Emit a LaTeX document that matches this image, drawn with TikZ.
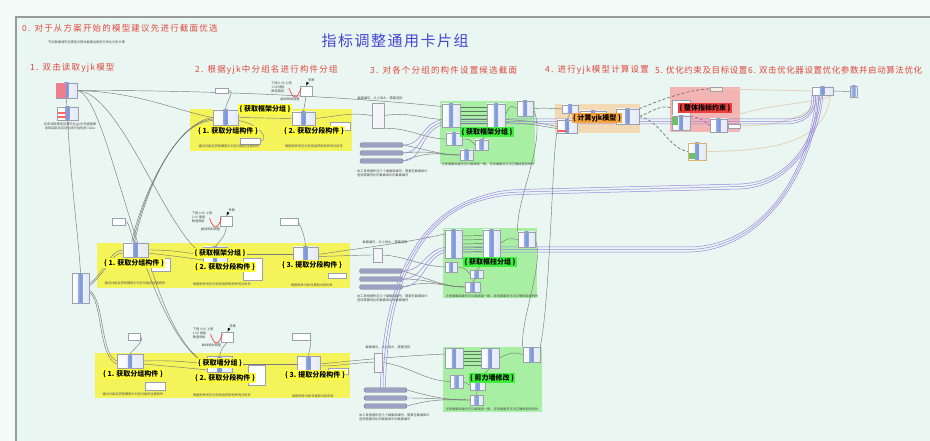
\documentclass[tikz,border=0pt]{standalone}
\usepackage{fontspec}
\setmainfont{Noto Sans CJK SC}
\newfontfamily\hdrfont{Noto Sans CJK SC}[LetterSpace=14]
\newfontfamily\hdrfontb{Noto Sans CJK SC}[LetterSpace=7]
\newfontfamily\ttlfont{Noto Sans CJK SC}[LetterSpace=10]
\usetikzlibrary{calc}
\definecolor{bgout}{HTML}{F4FAF8}
\definecolor{bgin}{HTML}{E9F6F1}
\definecolor{framec}{HTML}{9A9A9A}
\definecolor{hdr}{HTML}{E2473F}
\definecolor{ttl}{HTML}{4646D6}
\definecolor{ygrp}{HTML}{F4F35A}
\definecolor{ylab}{HTML}{FFFF3C}
\definecolor{ggrp}{HTML}{A9EFA3}
\definecolor{glab}{HTML}{3FEF3F}
\definecolor{ogrp}{HTML}{F4D9B5}
\definecolor{olab}{HTML}{F5A33A}
\definecolor{rgrp}{HTML}{F2B5B3}
\definecolor{rlab}{HTML}{EE3F3F}
\definecolor{wire}{HTML}{7A7A7A}
\definecolor{pwire}{HTML}{9A86E0}
\definecolor{twire}{HTML}{E6D0B8}
\definecolor{cfill}{HTML}{E2E8F7}
\definecolor{cstripe}{HTML}{7A96DA}
\definecolor{cdraw}{HTML}{9AA0AE}
\definecolor{sfill}{HTML}{9BA3C4}
\definecolor{pinkc}{HTML}{EE7E8E}
\definecolor{greenc}{HTML}{6FBF6F}
\definecolor{tanc}{HTML}{F8EBDD}
\definecolor{orbord}{HTML}{E0B070}
\definecolor{dgw}{HTML}{5E7A5E}
\definecolor{magw}{HTML}{D04E90}
\pgfdeclarelayer{grp}
\pgfdeclarelayer{wires}
\pgfsetlayers{grp,wires,main}
\tikzset{
 comp/.style 2 args={draw=cdraw, line width=0.45pt, inner sep=0pt, minimum width=#1, minimum height=#2,
   left color=white, right color=cfill,
   path picture={\shade[left color=cfill, right color=cfill, middle color=cstripe]
     ([xshift=-2.2pt]path picture bounding box.south) rectangle ([xshift=2.2pt]path picture bounding box.north);}},
 wbox/.style 2 args={draw=cdraw, line width=0.45pt, fill=white, inner sep=0pt, minimum width=#1, minimum height=#2},
 slider/.style={draw=cdraw!80!black, line width=0.4pt, fill=sfill, rounded corners=1.5pt, inner sep=0pt, minimum width=43, minimum height=4.5},
 grpbox/.style={fill=#1, draw=none, inner sep=0pt},
 glabel/.style={fill=#1, text=black, font=\bfseries\fontsize{7}{8}\selectfont, inner sep=1.3pt},
 hdrs/.style={text=hdr, font=\hdrfont\fontsize{8.5}{10}\selectfont, anchor=west, inner sep=0pt},
 tinytxt/.style={text=black!70, font=\fontsize{3.2}{3.9}\selectfont, inner sep=0pt},
 w/.style={draw=wire, line width=0.45pt},
 pw/.style={draw=pwire, line width=0.5pt},
 tw/.style={draw=twire, line width=0.8pt},
 dw/.style={draw=black!55, line width=0.7pt, dash pattern=on 3pt off 2pt},
}
\newcommand{\mgraph}[3]{%
  \node[wbox={12}{10}] (#1box) at (#2,#3) {};
  \node[tinytxt, anchor=east, align=left] (#1txt) at ({#2-14},{#3-4}) {下限 0.00 上限\\ 1.00 插值\\ 数值映射};
  \draw[red!80, line width=0.6pt] ({#2-17},{#3-3}) .. controls ({#2-13},{#3+9}) and ({#2-9},{#3+9}) .. ({#2-5},{#3-3});
  \node[tinytxt, anchor=south west] (#1lbl) at ({#2+2},{#3-9}) {参数};
  \draw[-latex, line width=0.3pt] (#1lbl.south west) -- (#1box.north);
  \node[tinytxt] (#1bot) at ({#2-16},{#3+8}) {曲线映射调整};
}
\begin{document}
\begin{tikzpicture}[x=1pt,y=-1pt]
\useasboundingbox (0,0) rectangle (930,441);
\begin{pgfonlayer}{grp}
\fill[bgout] (0,0) rectangle (930,441);
\fill[bgin] (16,17) rectangle (930,441);
\draw[framec, line width=1.4pt] (16,441) -- (16,17) -- (931,17);
% groups
\node[grpbox=ygrp, minimum width=162, minimum height=42] (Y1) at (271,130) {};
\node[grpbox=ygrp, minimum width=253, minimum height=45] (Y2) at (223.5,265.5) {};
\node[grpbox=ygrp, minimum width=255, minimum height=45] (Y3) at (222.5,375.5) {};
\node[grpbox=ggrp, minimum width=95, minimum height=63] (GG1) at (487.5,132.5) {};
\node[grpbox=ggrp, minimum width=94, minimum height=70] (GG2) at (490,263) {};
\node[grpbox=ggrp, minimum width=99, minimum height=65] (GG3) at (492.5,379.5) {};
\node[grpbox=ogrp, minimum width=85, minimum height=29] (GO) at (597.5,118.5) {};
\node[grpbox=rgrp, minimum width=70, minimum height=45] (GR) at (705,109.5) {};
\end{pgfonlayer}

% headers
\node[hdrs] (h0) at (22,28) {0. 对于从方案开始的模型建议先进行截面优选};
\node[tinytxt, anchor=west] (h0t) at (48,42) {节点数据请先在模型中预设截面后再进行优化分析计算};
\node[text=ttl, font=\ttlfont\fontsize{15}{17}\selectfont, inner sep=0pt] (title) at (395,41) {指标调整通用卡片组};
\node[hdrs] (h1) at (30,68) {1. 双击读取yjk模型};
\node[hdrs] (h2) at (195,70) {2. 根据yjk中分组名进行构件分组};
\node[hdrs] (h3) at (370,70) {3. 对各个分组的构件设置候选截面};
\node[hdrs] (h4) at (545,70) {4. 进行yjk模型计算设置};
\node[hdrs, font=\hdrfontb\fontsize{8.5}{10}\selectfont] (h5) at (655,70) {5. 优化约束及目标设置6. 双击优化器设置优化参数并启动算法优化};

% left
\node[comp={21}{15}] (L0) at (66.5,90.5) {};
\fill[pinkc] ($(L0.north west)+(0.5,0.5)$) rectangle ($(L0.south)+(-0.5,-0.5)$);
\node[comp={21}{13}] (L1) at (67.5,113.5) {};
\fill[red!60] ($(L1.south west)+(1.5,-2)$) rectangle ($(L1.south)+(-2,-4.5)$);
\fill[red!60] ($(L1.south west)+(1.5,-6.5)$) rectangle ($(L1.south)+(-2,-8.5)$);
\node[tinytxt, align=center] (tL1) at (70,126.5) {双击读取模型前请先在yjk中完成建模\\读取结束后自动生成分组信息 Tekla};
\node[comp={17}{30}] (LB) at (80.5,288) {};

% row 1
\node[wbox={13}{5}] (SB1) at (221.5,90.5) {};
\node[comp={25}{15}] (A1) at (225.5,117.5) {};
\node[comp={23}{13}] (A2) at (303.5,118.5) {};
\node[wbox={20}{6}] (s1) at (250,141) {};
\node[wbox={20}{8}] (s2) at (340,126) {};
\mgraph{g1}{306}{91}
\node[tinytxt] (t1a) at (229,146) {通过分组名获取模型中对应分组的全部构件};
\node[tinytxt] (t1b) at (314,146) {根据构件所在分段信息获取构件的分段号};

% row 2
\node[wbox={13}{7}] (SB2a) at (118.5,221.5) {};
\node[wbox={18}{7}] (SB2b) at (289,221.5) {};
\mgraph{g2}{226.5}{221}
\node[comp={25}{14}] (B1) at (135.5,250) {};
\node[comp={24}{15}] (B2) at (215,254.5) {};
\node[comp={25}{15}] (B3) at (305.5,254.5) {};
\node[wbox={19}{13}] (sb1) at (160.5,264.5) {};
\node[wbox={19}{22}] (sb2) at (252.5,269) {};
\node[wbox={18}{5}] (sb3) at (337,276) {};
\node[tinytxt] (t2a) at (135,283) {通过分组名获取模型中对应分组的全部构件};
\node[tinytxt] (t2b) at (222,284) {根据构件所在分段信息获取构件的分段号};
\node[tinytxt] (t2c) at (312,285) {根据构件分段号提取分段构件};

% row 3
\node[wbox={12}{7}] (SB3a) at (134,336.5) {};
\node[wbox={18}{7}] (SB3b) at (301,336.5) {};
\mgraph{g3}{227.5}{337}
\node[comp={26}{14}] (C1) at (130,361) {};
\node[comp={25}{16}] (C2) at (219.5,364) {};
\node[comp={23}{16}] (C3) at (308.5,364) {};
\node[wbox={20}{8}] (sc1) at (155,386) {};
\node[wbox={17}{20}] (sc2) at (256.5,375) {};
\node[wbox={20}{6}] (sc3) at (338,371) {};
\node[tinytxt] (t3a) at (133,394) {通过分组名获取模型中对应分组的全部构件};
\node[tinytxt] (t3b) at (222,395) {根据构件所在分段信息获取构件的分段号};
\node[tinytxt] (t3c) at (313,396) {根据构件分段号提取分段构件};

% section columns
\node[wbox={12}{25}, fill=white!92!gray] (T1) at (378,115.5) {};
\node[slider] (S1a) at (381.5,145) {};
\node[slider] (S1b) at (381.5,153) {};
\node[slider] (S1c) at (381.5,161) {};
\node[tinytxt] (tT1) at (380,98) {截面编号，从小到大，需要选择};
\node[tinytxt, anchor=west, align=left] (tS1) at (357,173) {本工具根据所选几个截面库编号，需要在截面库中\\选择需要优化的截面库中的截面编号};

\node[wbox={9}{14}, fill=white!92!gray] (T2) at (377.5,255) {};
\node[slider] (S2a) at (381,271) {};
\node[slider] (S2b) at (381,279) {};
\node[slider] (S2c) at (381,287) {};
\node[tinytxt] (tT2) at (385,242) {截面编号，从小到大，需要选择};
\node[tinytxt, anchor=west, align=left] (tS2) at (357,298) {本工具根据所选几个截面库编号，需要在截面库中\\选择需要优化的截面库中的截面编号};

\node[wbox={8}{19}, fill=white!92!gray] (T3) at (378,362.5) {};
\node[slider] (S3a) at (385.5,390) {};
\node[slider] (S3b) at (385.5,398) {};
\node[slider] (S3c) at (385.5,406) {};
\node[tinytxt] (tT3) at (388,347) {截面编号，从小到大，需要选择};
\node[tinytxt, anchor=west, align=left] (tS3) at (359,417) {本工具根据所选几个截面库编号，需要在截面库中\\选择需要优化的截面库中的截面编号};

% green 1
\node[comp={18}{23}] (K1a) at (451,115.5) {};
\node[comp={18}{23}] (K1b) at (496,115.5) {};
\node[comp={16}{15}] (K1c) at (525,108.5) {};
\node[comp={16}{12}] (K1d) at (454,139) {};
\node[comp={13}{10}] (K1e) at (481.5,145) {};
\node[comp={13}{10}] (K1f) at (466.5,155) {};
\node[tinytxt] (tK1) at (488,164) {注意截面库编号应与截面库一致，否则截面将无法正确赋值到构件};
% green 2
\node[comp={17}{28}] (K2a) at (453.5,244) {};
\node[comp={17}{27}] (K2b) at (491.5,243.5) {};
\node[comp={17}{15}] (K2c) at (526.5,239.5) {};
\node[comp={12}{10}] (K2d) at (451,267) {};
\node[comp={13}{8}] (K2e) at (476.5,274) {};
\node[comp={15}{10}] (K2f) at (472.5,287) {};
\node[tinytxt] (tK2) at (492,296) {注意截面库编号应与截面库一致，否则截面将无法正确赋值到构件};
% green 3
\node[comp={18}{20}] (K3a) at (454,358) {};
\node[comp={18}{20}] (K3b) at (490,358) {};
\node[comp={17}{15}] (K3c) at (531.5,354.5) {};
\node[comp={13}{13}] (K3d) at (456.5,381.5) {};
\node[comp={15}{10}] (K3e) at (477.5,385) {};
\node[comp={13}{10}] (K3f) at (476.5,400) {};
\node[tinytxt] (tK3) at (492,409) {注意截面库编号应与截面库一致，否则截面将无法正确赋值到构件};

% orange
\node[comp={16}{8}] (O1) at (570,109) {};
\node[comp={26}{6}] (O2) at (593,114) {};
\node[comp={23}{15}] (O3) at (627.5,116.5) {};
\node[comp={20}{13}] (O4) at (567,126.5) {};
\fill[red!65] ($(O4.south west)+(1,-1)$) rectangle ($(O4.south west)+(9,-3.5)$);

% red
\node[wbox={18}{16}] (R4) at (681,108) {};
\node[comp={18}{14}] (R1) at (681,123) {};
\fill[greenc] ($(R1.north west)+(0.5,1)$) rectangle ($(R1.north west)+(6,9)$);
\node[comp={17}{13}] (R2) at (718.5,125.5) {};
\node[wbox={12}{4}] (R3) at (734,126) {};
\node[wbox={12}{4}, fill=tanc] (R0) at (716,89) {};
\node[comp={18}{17}, draw=orbord] (RL) at (697,151.5) {};
\fill[greenc] ($(RL.south west)+(1,-1)$) rectangle ($(RL.south west)+(8,-7)$);

% optimizer
\node[comp={21}{8}] (OP) at (822.5,91) {};
\node[comp={7}{11}] (OQ) at (853.5,91.5) {};

% labels
\node[glabel=ylab] (YL1) at (265,109) {\{ 获取框架分组 \}};
\node[glabel=ylab] (YL1a) at (228,131) {\{ 1. 获取分组构件 \}};
\node[glabel=ylab] (YL1b) at (314,131) {\{ 2. 获取分段构件 \}};
\node[glabel=ylab] (YL2) at (220,253) {\{ 获取框架分组 \}};
\node[glabel=ylab] (YL2a) at (134,263) {\{ 1. 获取分组构件 \}};
\node[glabel=ylab] (YL2b) at (225,267) {\{ 2. 获取分段构件 \}};
\node[glabel=ylab] (YL2c) at (312,265) {\{ 3. 提取分段构件 \}};
\node[glabel=ylab] (YL3) at (220,363) {\{ 获取墙分组 \}};
\node[glabel=ylab] (YL3a) at (133,374) {\{ 1. 获取分组构件 \}};
\node[glabel=ylab] (YL3b) at (225,378) {\{ 2. 获取分段构件 \}};
\node[glabel=ylab] (YL3c) at (315,375) {\{ 3. 提取分段构件 \}};
\node[glabel=glab] (GL1) at (487,132) {\{ 获取框架分组 \}};
\node[glabel=glab] (GL2) at (490,262) {\{ 获取框柱分组 \}};
\node[glabel=glab] (GL3) at (492,378) {\{ 剪力墙修改 \}};
\node[glabel=olab] (OLb) at (597,118) {\{ 计算yjk模型 \}};
\node[glabel=rlab] (RLb) at (705,108) {\{ 整体指标约束 \}};

\begin{pgfonlayer}{wires}
% from yjk reader
\draw[w] (L0.east) .. controls (200,90) and (340,96) .. ([yshift=9pt]K1a.west);
\draw[w] (L0.east) .. controls (140,92) and (180,112) .. (A1.west);
\draw[w] (SB1.east) .. controls +(8,0) and +(0,-8) .. (A1.north);
\draw[w] (L0.east) .. controls (120,92) and (165,230) .. (B2.west);
\draw[w] (L0.east) .. controls (110,95) and (140,330) .. (C2.west);
\draw[w] (L0.south) .. controls (70,180) and (78,230) .. (LB.north);
\foreach \d in {0,1.5,3}{
  \draw[w] ([yshift={-\d}]A1.west) .. controls ({175-\d},122) and ({140+\d},200) .. ([xshift={\d-4}]B1.north);
}
\draw[w] ([yshift=4pt]LB.east) .. controls (105,272) and (110,250) .. (B1.west);
\draw[w] ([yshift=2pt]LB.east) .. controls (107,272) and (112,252) .. ([yshift=-3pt]B1.west);
\draw[w] ([yshift=-2pt]LB.east) .. controls (105,300) and (100,355) .. (C1.west);
\draw[w] ([yshift=-4pt]LB.east) .. controls (103,302) and (98,357) .. ([yshift=-3pt]C1.west);
\draw[w] (B1.south east) .. controls (160,300) and (180,350) .. (C2.west);
% row 1 chain
\draw[w] (A1.east) -- (A2.west);
\draw[w] ([yshift=-3pt]A1.east) .. controls (260,124) and (270,140) .. (s1.east);
\draw[w] (g1box.south) -- (A2.north);
\draw[w] (A2.east) .. controls (340,116) and (350,112) .. (T1.west);
\draw[w] (T1.east) .. controls (410,112) and (420,118) .. ([yshift=-4pt]K1a.west);
\draw[w] (T1.south east) .. controls (410,128) and (425,139) .. (K1d.west);
\foreach \s in {S1a,S1b,S1c}{\draw[w] (\s.east) .. controls (430,150) and (440,155) .. (K1f.west);}
\foreach \d in {-8,-4,0,4,8}{\draw[w, draw=dgw] ([yshift=\d pt]K1a.east) -- ([yshift=\d pt]K1b.west);}
\draw[w] (K1b.east) .. controls (510,105) .. (K1c.west);
\draw[w] (K1d.east) .. controls (470,139) .. (K1e.west);
\draw[w] (K1f.north) -- (K1e.south);
\draw[w] (K1e.north) -- (K1b.south);
% row 2 chain
\draw[w] (SB2a.east) .. controls (130,222) and (130,235) .. (B1.north);
\draw[w] (SB2b.east) .. controls (300,225) and (305,235) .. (B3.north);
\draw[w] (g2box.south) .. controls (225,235) .. (B2.north);
\draw[w] (B1.east) .. controls (175,250) and (185,253) .. (B2.west);
\draw[w] ([yshift=-3pt]B1.east) .. controls (190,258) and (225,262) .. (sb2.west);
\draw[w] (B2.east) -- (B3.west);
\draw[w] (B3.east) .. controls (360,248) and (400,244) .. ([yshift=10pt]K2a.west);
\draw[w] ([yshift=-2pt]B3.east) .. controls (340,256) and (360,255) .. (T2.west);
\draw[w] (T2.east) .. controls (405,256) and (420,266) .. (K2d.west);
\foreach \s in {S2a,S2b,S2c}{\draw[w] (\s.east) .. controls (430,279) and (445,287) .. (K2f.west);}
\foreach \d in {-8,-4,0,4,8}{\draw[w, draw=dgw] ([yshift=\d pt]K2a.east) -- ([yshift=\d pt]K2b.west);}
\draw[w] (K2b.east) .. controls (508,238) .. (K2c.west);
\draw[w] (K2d.east) .. controls (465,268) .. (K2e.west);
\draw[w] (K2f.north) -- (K2e.south);
\draw[w] (K2e.north) -- (K2b.south);
% row 3 chain
\draw[w] (SB3a.east) .. controls (145,340) and (135,348) .. (C1.north);
\draw[w] (SB3b.east) .. controls (312,340) and (310,348) .. (C3.north);
\draw[w] (g3box.south) .. controls (222,348) .. (C2.north);
\draw[w] (C1.east) .. controls (170,360) and (190,362) .. (C2.west);
\draw[w] ([yshift=-3pt]C1.east) .. controls (190,368) and (230,372) .. (sc2.west);
\draw[w] (C2.east) -- (C3.west);
\draw[w] (C3.east) .. controls (360,360) and (400,356) .. ([yshift=4pt]K3a.west);
\draw[w] ([yshift=-2pt]C3.east) .. controls (340,366) and (360,362) .. (T3.west);
\draw[w] (T3.east) .. controls (410,366) and (425,381) .. (K3d.west);
\foreach \s in {S3a,S3b,S3c}{\draw[w] (\s.east) .. controls (435,398) and (450,400) .. (K3f.west);}
\foreach \d in {-7,-3.5,0,3.5,7}{\draw[w, draw=dgw] ([yshift=\d pt]K3a.east) -- ([yshift=\d pt]K3b.west);}
\draw[w] (K3b.east) .. controls (512,352) .. (K3c.west);
\draw[w] (K3d.east) .. controls (466,384) .. (K3e.west);
\draw[w] (K3f.north) -- (K3e.south);
\draw[w] (K3e.north) -- (K3b.south);
% vertical chain to calculation
\draw[w] (K1c.east) .. controls (548,140) and (515,200) .. (K2c.north west);
\draw[w] (K2c.east) .. controls (545,262) and (520,320) .. (K3c.north west);
\draw[w] (K3c.north east) .. controls (550,300) and (552,160) .. (O4.south west);
\draw[w] ([yshift=-4pt]K1b.east) .. controls (530,121) .. (O4.west);
\draw[w] ([yshift=-7pt]K1b.east) .. controls (530,124) .. ([yshift=-2pt]O4.west);
\draw[w] (K1c.east) .. controls (545,108) .. (O1.west);
\draw[w] (O4.north) -- (O1.south);
\draw[w] (O1.east) .. controls (578,112) .. (O2.west);
\draw[w] (O2.east) -- (O3.west);
% dashed to constraints
\draw[dw] (O3.east) .. controls (652,112) and (660,104) .. (R4.west);
\draw[dw] (O3.north east) .. controls (660,100) and (690,89) .. (R0.west);
\draw[dw] (O3.east) .. controls (660,120) and (668,148) .. (RL.west);
\draw[dw, draw=magw] (R4.south east) .. controls (700,118) .. (R2.west);
% to optimizer (tan)
\draw[tw] (R0.east) -- (OP.west);
\draw[tw] (R3.east) .. controls (790,126) and (818,110) .. (OP.south);
\draw[tw] (RL.east) .. controls (780,151) and (826,140) .. ([xshift=-3pt]OP.south east);
\draw[tw] (R2.north east) .. controls (760,104) and (815,104) .. ([xshift=-1pt]OP.south east);
\draw[w] (OP.east) -- (OQ.west);
% genome wires (purple)
\foreach \s/\d in {S1a/0,S1b/2.5,S1c/5}{
  \draw[pw] (\s.east) .. controls (425,{145+\d*3.2}) and (420,{119+\d}) .. (450,{119+\d}) -- (785,{119+\d}) .. controls (806,{119+\d}) and ({813+\d},112) .. ([xshift={\d*0.6}]OP.south west);
}
\foreach \s/\d in {S2a/0,S2b/2.5,S2c/5}{
  \draw[pw] (\s.east) .. controls (425,{271+\d*3.2}) and (425,{247+\d}) .. (450,{247+\d}) -- (690,{247+\d}) .. controls (770,{245+\d}) and ({812+\d},160) .. ([xshift={4+\d*0.6}]OP.south west);
}
\foreach \d in {0,2.5,5}{
  \draw[pw] ([xshift={\d-5}]S3a.north) .. controls ({381+\d},330) and ({395+\d},230) .. ({470+\d*0.5},{200+\d*0.6}) .. controls (500,{190+\d}) .. (540,{189+\d}) -- (740,{184+\d}) .. controls (790,{182+\d}) and ({815+\d},140) .. ([xshift={8+\d*0.6}]OP.south west);
}
\end{pgfonlayer}
\end{tikzpicture}
\end{document}
